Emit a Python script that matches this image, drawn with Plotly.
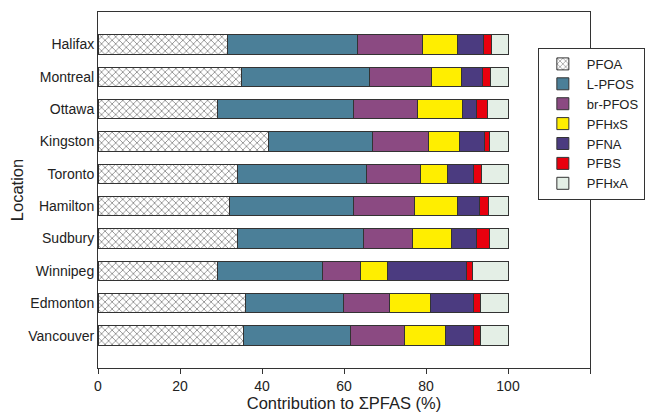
import plotly.graph_objects as go

# Sampling locations, top to bottom
locations = ["Halifax", "Montreal", "Ottawa", "Kingston", "Toronto",
             "Hamilton", "Sudbury", "Winnipeg", "Edmonton", "Vancouver"]

# Percent contribution of each compound to total PFAS at each location
pfoa   = [31.5, 35.0, 29.1, 41.6, 34.1, 32.0, 34.1, 29.1, 35.9, 35.6]
l_pfos = [31.8, 31.1, 33.1, 25.3, 31.5, 30.2, 30.6, 25.6, 23.9, 26.0]
br_pfos = [15.9, 15.2, 15.7, 13.7, 13.0, 15.0, 12.0, 9.4, 11.4, 13.2]
pfhxs  = [8.5, 7.3, 11.1, 7.6, 6.6, 10.5, 9.5, 6.4, 9.9, 10.0]
pfna   = [6.3, 5.3, 3.4, 6.1, 6.4, 5.3, 6.2, 19.3, 10.6, 6.7]
pfbs   = [2.0, 1.9, 2.6, 1.2, 1.9, 2.3, 3.1, 1.6, 1.5, 1.8]
pfhxa  = [4.0, 4.2, 5.0, 4.5, 6.5, 4.7, 4.5, 8.6, 6.8, 6.7]

x_ticks = [0, 20, 40, 60, 80, 100, 120]
x_tick_labels = ["0", "20", "40", "60", "80", "100", ""]

series = [
    ("PFOA", pfoa, "#ffffff"),
    ("L-PFOS", l_pfos, "#4b7f98"),
    ("br-PFOS", br_pfos, "#8b4a82"),
    ("PFHxS", pfhxs, "#ffee00"),
    ("PFNA", pfna, "#4b3b80"),
    ("PFBS", pfbs, "#e8000e"),
    ("PFHxA", pfhxa, "#e4efe6"),
]

fig = go.Figure()
for name, vals, color in series:
    marker = dict(color=color, line=dict(color="#333333", width=1))
    if name == "PFOA":
        marker["pattern"] = dict(shape="x", size=5, solidity=0.3,
                                 fgcolor="#111111", bgcolor="#ffffff",
                                 fillmode="overlay")
    fig.add_trace(go.Bar(
        name=name, x=vals, y=locations, orientation="h",
        width=0.6, marker=marker,
    ))

font_family = "Liberation Sans, Arial, sans-serif"

fig.update_layout(
    barmode="stack",
    width=646, height=412,
    margin=dict(l=98, r=56, t=12, b=44, autoexpand=False),
    paper_bgcolor="white", plot_bgcolor="white",
    font=dict(family=font_family, size=14, color="#222222"),
    showlegend=True,
    legend=dict(
        x=0.894, y=0.899, xanchor="left", yanchor="top",
        bgcolor="white", bordercolor="#333333", borderwidth=1,
        font=dict(size=13, color="#222222"),
        tracegroupgap=0, traceorder="normal", itemwidth=38,
    ),
    xaxis=dict(
        range=[0, 120], tickmode="array", tickvals=x_ticks,
        ticktext=x_tick_labels,
        ticks="outside", ticklen=5, tickcolor="#333333",
        showline=True, linecolor="#333333", linewidth=1, mirror=True,
        showgrid=False, zeroline=False,
        tickfont=dict(size=14),
        title=dict(text="Contribution to \u03a3PFAS (%)", font=dict(size=16.5),
                   standoff=4),
    ),
    yaxis=dict(
        categoryorder="array", categoryarray=locations[::-1],
        range=[-1, 10],
        showline=True, linecolor="#333333", linewidth=1, mirror=True,
        showgrid=False, zeroline=False, ticks="",
        tickfont=dict(size=14),
        title=dict(text="Location", font=dict(size=16.5), standoff=0),
    ),
)

fig.write_html("out.html")
